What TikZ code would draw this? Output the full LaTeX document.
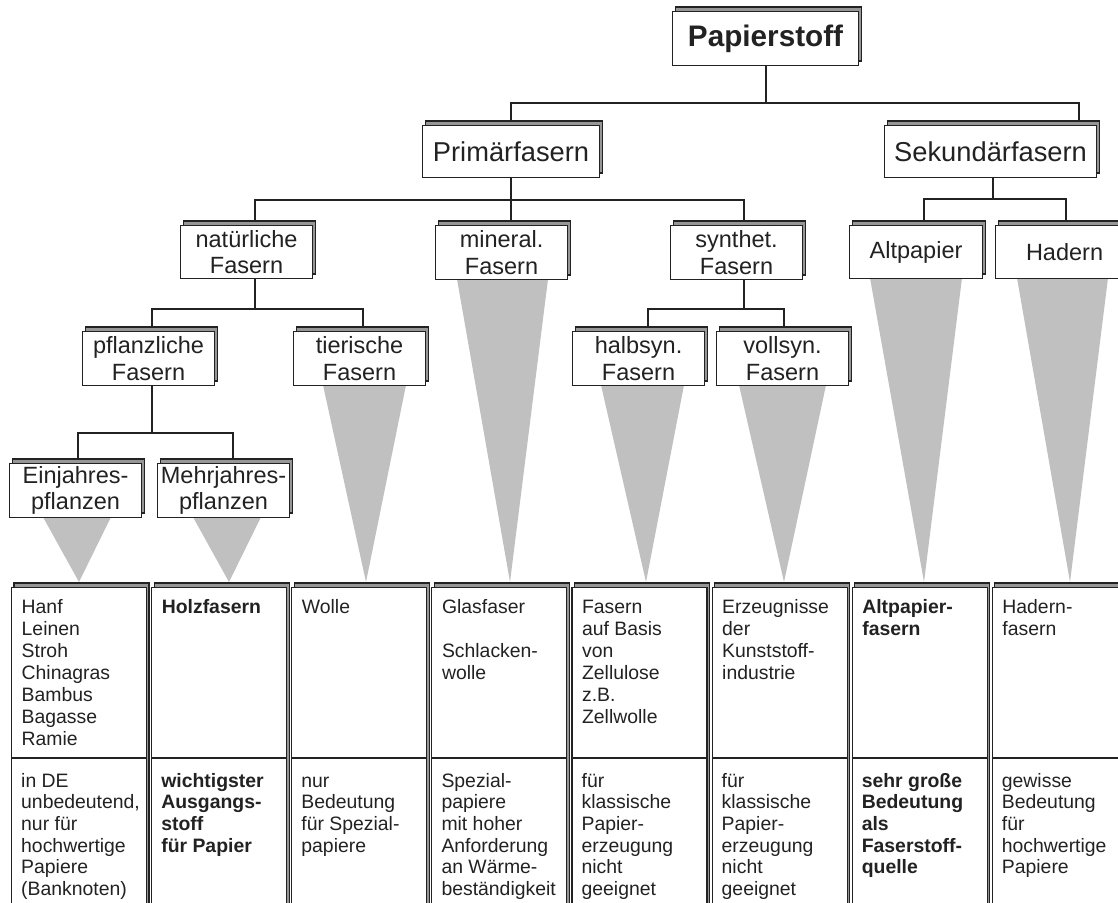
\documentclass[tikz,border=0pt]{standalone}
\usepackage{fontspec}
\setmainfont{Liberation Sans}[Ligatures=NoCommon]
\definecolor{trigray}{RGB}{192,192,192}
\definecolor{shadowgray}{RGB}{150,150,150}
\definecolor{ink}{RGB}{34,34,34}
\tikzset{
  conn/.style={draw=ink, line width=2pt},
  backrect/.style={draw=ink, line width=1.1pt, fill=shadowgray},
  frontrect/.style={draw=ink, line width=1.1pt, fill=white, inner sep=0pt, text=ink},
  midline/.style={draw=ink, line width=1.1pt},
  tri/.style={fill=trigray},
  lvlone/.style={font=\bfseries\fontsize{29.7}{34}\selectfont},
  lvltwo/.style={font=\fontsize{27.3}{31}\selectfont},
  lvlthree/.style={font=\fontsize{23.5}{26.5}\selectfont},
  celltxt/.style={anchor=base west, inner sep=0pt, text=ink, font=\fontsize{19.4}{22}\selectfont},
  celltxtb/.style={anchor=base west, inner sep=0pt, text=ink, font=\fontsize{19.4}{21.7}\selectfont},
}
% #1 name, #2 x1, #3 y1, #4 x2, #5 y2, #6 style, #7 text
\newcommand\treebox[7]{%
  \draw[backrect] (#2+3.5,#3-4) rectangle (#4+3.5,#5-4);
  \node[frontrect,#6,align=center,anchor=north west,minimum width=#4-#2,minimum height=#5-#3] (#1) at (#2,#3) {#7};
}
% #1 name, #2 left x
\newcommand\tablecol[2]{%
  \draw[backrect] (#2+3,583) rectangle (#2+138,940);
  \node[frontrect,anchor=north west,minimum width=135,minimum height=353] (#1) at (#2,587) {};
  \draw[midline] (#1.west |- 0,758) -- (#1.east |- 0,758);
}
\newcommand\cell[1]{\begin{tabular}[t]{@{}l@{}}#1\end{tabular}}
\begin{document}
\begin{tikzpicture}[x=1pt,y=-1pt]
\useasboundingbox (0,0) rectangle (1118,902);
\clip (0,0) rectangle (1118,902);
\fill[white] (0,0) rectangle (1118,902);

% ---------- triangles ----------
\fill[tri] (43,517) -- (111,517) -- (79,582) -- cycle;
\fill[tri] (193,517) -- (261,517) -- (229,582) -- cycle;
\fill[tri] (323,385) -- (406,385) -- (366,582) -- cycle;
\fill[tri] (457,279) -- (548,279) -- (510,582) -- cycle;
\fill[tri] (601,385) -- (684,385) -- (646,582) -- cycle;
\fill[tri] (739,385) -- (826,385) -- (784,582) -- cycle;
\fill[tri] (870,278) -- (962,278) -- (924,582) -- cycle;
\fill[tri] (1017,278) -- (1108,278) -- (1070,582) -- cycle;

% ---------- tree boxes ----------
\treebox{papier}{672}{11}{858}{65}{lvlone}{Papierstoff}
\treebox{prim}{422}{125}{599}{177}{lvltwo}{Primärfasern}
\treebox{sek}{884}{125}{1096}{177}{lvltwo}{Sekundärfasern}
\treebox{nat}{180}{225}{312}{278}{lvlthree}{natürliche\\Fasern}
\treebox{min}{435}{225}{567}{279}{lvlthree}{mineral.\\Fasern}
\treebox{syn}{670}{225}{802}{279}{lvlthree}{synthet.\\Fasern}
\treebox{alt}{849}{225}{982}{278}{lvlthree}{Altpapier}
\treebox{had}{995}{225}{1133}{278}{lvlthree}{Hadern}
\treebox{pfl}{82}{331}{214}{385}{lvlthree}{pflanzliche\\Fasern}
\treebox{tier}{293}{331}{425}{385}{lvlthree}{tierische\\Fasern}
\treebox{halb}{572}{331}{704}{385}{lvlthree}{halbsyn.\\Fasern}
\treebox{voll}{716}{331}{848}{385}{lvlthree}{vollsyn.\\Fasern}
\treebox{ein}{9}{463}{141}{517}{lvlthree}{Einjahres-\\pflanzen}
\treebox{mehr}{157}{463}{289}{517}{lvlthree}{Mehrjahres-\\pflanzen}

% ---------- connectors ----------
\coordinate (sektop) at ([xshift=88pt]sek.north);
\draw[conn] (papier.south) -- (papier.south |- 0,103);
\draw[conn] (prim.north) |- (sektop |- 0,103) -- (sektop);
\draw[conn] (prim.south) -- (prim.south |- 0,200);
\draw[conn] ([xshift=8pt]nat.north) |- ([xshift=7pt]syn.north |- 0,200) -- ([xshift=7pt]syn.north);
\draw[conn] ([xshift=9pt]min.north) -- ([xshift=9pt]min.north |- 0,200);
\draw[conn] ([xshift=2pt]sek.south) -- ([xshift=2pt]sek.south |- 0,199);
\draw[conn] ([xshift=7.5pt]alt.north) |- ([xshift=1pt]had.north |- 0,199) -- ([xshift=1pt]had.north);
\draw[conn] ([xshift=8pt]nat.south) -- ([xshift=8pt]nat.south |- 0,309);
\draw[conn] ([xshift=3pt]pfl.north) |- ([xshift=3pt]tier.north |- 0,309) -- ([xshift=3pt]tier.north);
\draw[conn] ([xshift=7pt]syn.south) -- ([xshift=7pt]syn.south |- 0,309);
\draw[conn] ([xshift=9pt]halb.north) |- ([xshift=1pt]voll.north |- 0,309) -- ([xshift=1pt]voll.north);
\draw[conn] ([xshift=3pt]pfl.south) -- ([xshift=3pt]pfl.south |- 0,433);
\draw[conn] ([xshift=2pt]ein.north) |- ([xshift=9pt]mehr.north |- 0,433) -- ([xshift=9pt]mehr.north);

% redraw boxes over connector ends
\treebox{papier}{672}{11}{858}{65}{lvlone}{Papierstoff}
\treebox{prim}{422}{125}{599}{177}{lvltwo}{Primärfasern}
\treebox{sek}{884}{125}{1096}{177}{lvltwo}{Sekundärfasern}
\treebox{nat}{180}{225}{312}{278}{lvlthree}{natürliche\\Fasern}
\treebox{min}{435}{225}{567}{279}{lvlthree}{mineral.\\Fasern}
\treebox{syn}{670}{225}{802}{279}{lvlthree}{synthet.\\Fasern}
\treebox{alt}{849}{225}{982}{278}{lvlthree}{Altpapier}
\treebox{had}{995}{225}{1133}{278}{lvlthree}{Hadern}
\treebox{pfl}{82}{331}{214}{385}{lvlthree}{pflanzliche\\Fasern}
\treebox{tier}{293}{331}{425}{385}{lvlthree}{tierische\\Fasern}
\treebox{halb}{572}{331}{704}{385}{lvlthree}{halbsyn.\\Fasern}
\treebox{voll}{716}{331}{848}{385}{lvlthree}{vollsyn.\\Fasern}
\treebox{ein}{9}{463}{141}{517}{lvlthree}{Einjahres-\\pflanzen}
\treebox{mehr}{157}{463}{289}{517}{lvlthree}{Mehrjahres-\\pflanzen}

% ---------- table ----------
\tablecol{c1}{11}
\tablecol{c2}{151.1}
\tablecol{c3}{291.2}
\tablecol{c4}{431.3}
\tablecol{c5}{571.4}
\tablecol{c6}{711.5}
\tablecol{c7}{851.6}
\tablecol{c8}{991.7}

\node[celltxt] (t1) at ([xshift=10.5pt]c1.north west |- 0,613) {\cell{Hanf\\Leinen\\Stroh\\Chinagras\\Bambus\\Bagasse\\Ramie}};
\node[celltxtb] (b1) at ([xshift=10pt]c1.north west |- 0,787) {\cell{in DE\\unbedeutend,\\nur für\\hochwertige\\Papiere\\(Banknoten)}};
\node[celltxt] (t2) at ([xshift=10.5pt]c2.north west |- 0,613) {\bfseries\cell{Holzfasern}};
\node[celltxtb] (b2) at ([xshift=10pt]c2.north west |- 0,787) {\bfseries\cell{wichtigster\\Ausgangs-\\stoff\\für Papier}};
\node[celltxt] (t3) at ([xshift=10.5pt]c3.north west |- 0,613) {\cell{Wolle}};
\node[celltxtb] (b3) at ([xshift=10pt]c3.north west |- 0,787) {\cell{nur\\Bedeutung\\für Spezial-\\papiere}};
\node[celltxt] (t4) at ([xshift=10.5pt]c4.north west |- 0,613) {\cell{Glasfaser\\ \\Schlacken-\\wolle}};
\node[celltxtb] (b4) at ([xshift=10pt]c4.north west |- 0,787) {\cell{Spezial-\\papiere\\mit hoher\\Anforderung\\an Wärme-\\beständigkeit}};
\node[celltxt] (t5) at ([xshift=10.5pt]c5.north west |- 0,613) {\cell{Fasern\\auf Basis\\von\\Zellulose\\z.B.\\Zellwolle}};
\node[celltxtb] (b5) at ([xshift=10pt]c5.north west |- 0,787) {\cell{für\\klassische\\Papier-\\erzeugung\\nicht\\geeignet}};
\node[celltxt] (t6) at ([xshift=10.5pt]c6.north west |- 0,613) {\cell{Erzeugnisse\\der\\Kunststoff-\\industrie}};
\node[celltxtb] (b6) at ([xshift=10pt]c6.north west |- 0,787) {\cell{für\\klassische\\Papier-\\erzeugung\\nicht\\geeignet}};
\node[celltxt] (t7) at ([xshift=10.5pt]c7.north west |- 0,613) {\bfseries\cell{Altpapier-\\fasern}};
\node[celltxtb] (b7) at ([xshift=10pt]c7.north west |- 0,787) {\bfseries\cell{sehr große\\Bedeutung\\als\\Faserstoff-\\quelle}};
\node[celltxt] (t8) at ([xshift=10.5pt]c8.north west |- 0,613) {\cell{Hadern-\\fasern}};
\node[celltxtb] (b8) at ([xshift=10pt]c8.north west |- 0,787) {\cell{gewisse\\Bedeutung\\für\\hochwertige\\Papiere}};
\end{tikzpicture}
\end{document}
